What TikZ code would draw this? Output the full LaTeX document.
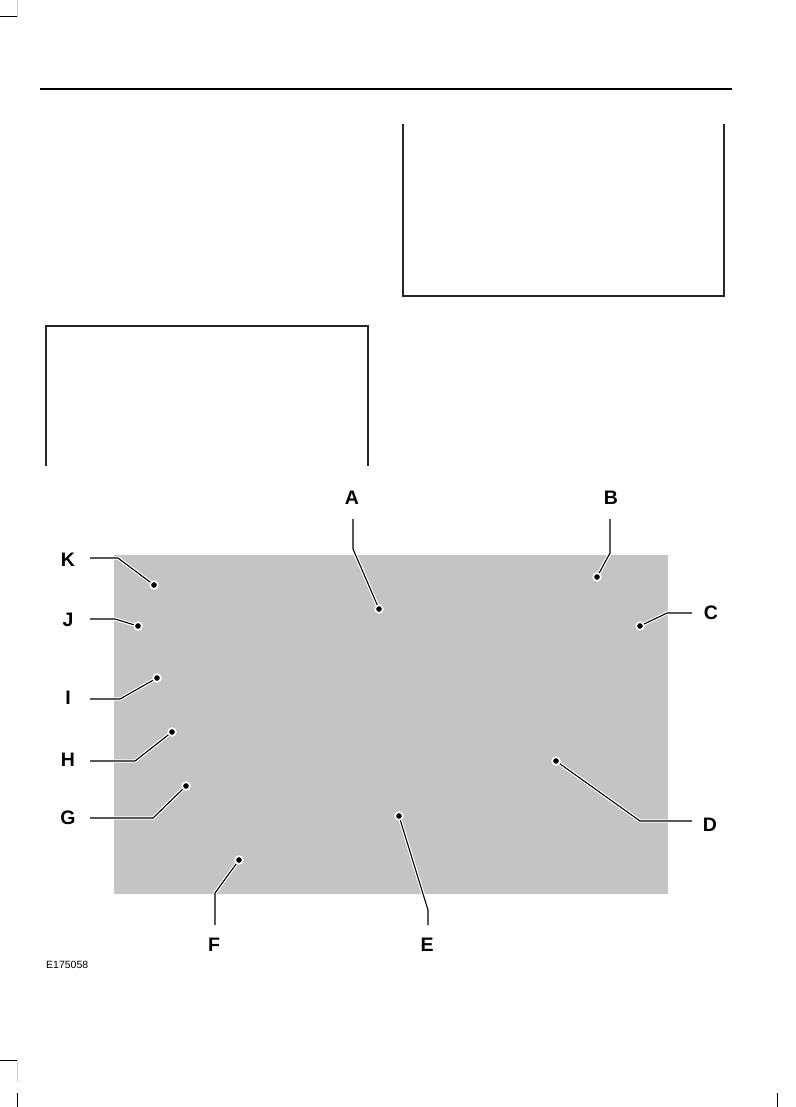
\documentclass[tikz,border=0pt]{standalone}
\usepackage{fontspec}
\setmainfont{Liberation Sans}
\usetikzlibrary{positioning}
\definecolor{screen}{HTML}{C4C4C4}
\tikzset{%
  callout/.style={font=\bfseries\fontsize{19.5}{19.5}\selectfont, inner sep=0pt},
  dot/.style={circle, fill=black, draw=white, line width=1.5pt, inner sep=0pt, minimum size=7.5pt},
  leader/.style={black, line width=1.1pt, preaction={draw=white, line width=3.4pt}},
  frame/.style={line width=2pt, black!85}
}

\begin{document}
\begin{tikzpicture}[x=1pt, y=-1pt]
\useasboundingbox (0,0) rectangle (795,1107);

% crop marks and header rule
\draw[line width=1pt] (0,17) -- (17,17);
\draw[gray!40, line width=0.6pt] (17,0) -- (17,17);
\draw[line width=1pt] (0,1060) -- (17,1060);
\draw[gray!40, line width=0.6pt] (17,1060) -- (17,1082);
\draw[line width=0.8pt] (17,1093) -- (17,1107);
\draw[line width=0.8pt] (777,1093) -- (777,1107);
\draw[line width=1.5pt] (40,89) -- (732,89);

% open frames
\draw[frame] (403,124) -- (403,296) -- (724,296) -- (724,124);
\draw[frame] (46,466) -- (46,326) -- (368,326) -- (368,466);

% screen
\fill[screen] (114,555) rectangle (668,894);

% labels
\node[callout] (lA) at (352,498) {A};
\node[callout] (lB) at (611,498) {B};
\node[callout] (lC) at (711,613) {C};
\node[callout] (lD) at (710,825) {D};
\node[callout] (lE) at (427,945) {E};
\node[callout] (lF) at (214,945) {F};
\node[callout] (lG) at (68,818) {G};
\node[callout] (lH) at (68,760) {H};
\node[callout] (lI) at (68,698) {I};
\node[callout] (lJ) at (68,620) {J};
\node[callout] (lK) at (68,560) {K};

% leader ends and knees
\coordinate (tA) at (353,519);  \coordinate (kA) at (353,549);
\coordinate (tB) at (610,519);  \coordinate (kB) at (610,553);
\coordinate (tC) at (692,613);  \coordinate (kC) at (667,613);
\coordinate (tD) at (692,821);  \coordinate (kD) at (640,821);
\coordinate (tE) at (428,925);  \coordinate (kE) at (428,910);
\coordinate (tF) at (215,925);  \coordinate (kF) at (215,893);
\coordinate (tG) at (90,818);   \coordinate (kG) at (153,818);
\coordinate (tH) at (90,761);   \coordinate (kH) at (135,761);
\coordinate (tI) at (90,699);   \coordinate (kI) at (120,699);
\coordinate (tJ) at (90,619);   \coordinate (kJ) at (115,619);
\coordinate (tK) at (90,558);   \coordinate (kK) at (118,558);

% points on the screen
\node[dot] (dA) at (379,609) {};
\node[dot] (dB) at (597,577) {};
\node[dot] (dC) at (640,626) {};
\node[dot] (dD) at (556,761) {};
\node[dot] (dE) at (399,816) {};
\node[dot] (dF) at (239,860) {};
\node[dot] (dG) at (186,786) {};
\node[dot] (dH) at (172,732) {};
\node[dot] (dI) at (157,678) {};
\node[dot] (dJ) at (138,626) {};
\node[dot] (dK) at (154,585) {};

\draw[leader] (tA) -- (kA) -- (dA);
\draw[leader] (tB) -- (kB) -- (dB);
\draw[leader] (tC) -- (kC) -- (dC);
\draw[leader] (tD) -- (kD) -- (dD);
\draw[leader] (tE) -- (kE) -- (dE);
\draw[leader] (tF) -- (kF) -- (dF);
\draw[leader] (tG) -- (kG) -- (dG);
\draw[leader] (tH) -- (kH) -- (dH);
\draw[leader] (tI) -- (kI) -- (dI);
\draw[leader] (tJ) -- (kJ) -- (dJ);
\draw[leader] (tK) -- (kK) -- (dK);

% redraw points over the leaders
\foreach \p in {A,B,C,D,E,F,G,H,I,J,K}
  \node[dot] at (d\p) {};

\node[font=\fontsize{10.5}{10.5}\selectfont, anchor=west, inner sep=0pt] (code) at (46,965) {E175058};
\end{tikzpicture}
\end{document}
